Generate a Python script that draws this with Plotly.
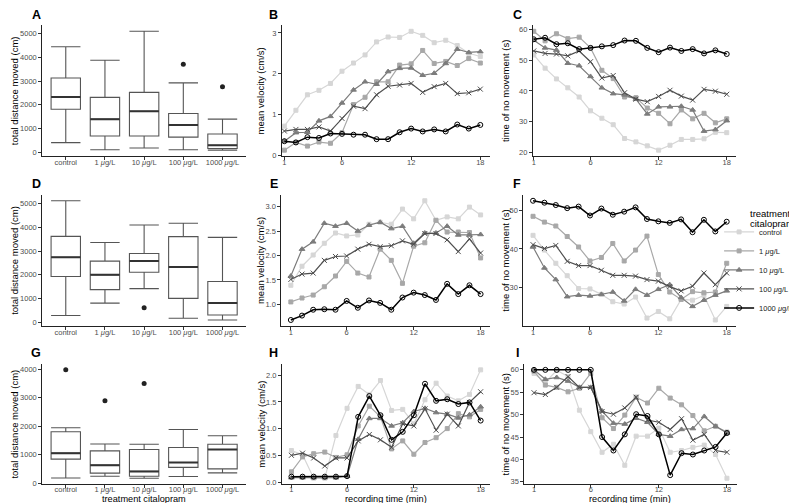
import plotly.graph_objects as go

W, H = 797, 503

# ---------------- data ----------------
treatments = ["control", "1 <i>μ</i>g/L", "10 <i>μ</i>g/L", "100 <i>μ</i>g/L", "1000 <i>μ</i>g/L"]
minutes = list(range(1, 19))
time_ticks = [1, 6, 12, 18]

# Box-plot statistics (total distance moved, cm)
A_low = [400, 100, 170, 100, 80]
A_q1 = [1810, 680, 680, 630, 150]
A_med = [2330, 1390, 1720, 1140, 290]
A_q3 = [3130, 2310, 2520, 1630, 760]
A_up = [4450, 3880, 5100, 2920, 1390]
A_out_x = [3, 4]
A_out_y = [3710, 2760]

D_low = [290, 810, 1420, 170, 100]
D_q1 = [1930, 1380, 2110, 1010, 310]
D_med = [2740, 2000, 2580, 2330, 820]
D_q3 = [3620, 2580, 2900, 3610, 1720]
D_up = [5120, 3360, 4100, 4170, 3580]
D_out_x = [2]
D_out_y = [620]

G_low = [180, 240, 170, 230, 360]
G_q1 = [840, 350, 240, 550, 500]
G_med = [1050, 630, 410, 720, 1180]
G_q3 = [1800, 1130, 1180, 1250, 1360]
G_up = [1940, 1370, 1360, 1880, 1660]
G_out_x = [0, 1, 2]
G_out_y = [3970, 2890, 3490]

# mean velocity (cm/s)
B_control = [0.71, 1.10, 1.48, 1.59, 1.76, 2.06, 2.26, 2.46, 2.78, 2.90, 2.89, 3.04, 2.94, 2.76, 2.82, 2.69, 2.50, 2.42]
B_1 = [0.12, 0.31, 0.22, 0.32, 0.29, 0.55, 1.24, 1.42, 1.80, 1.80, 2.21, 2.24, 2.57, 2.25, 2.30, 2.20, 2.37, 2.26]
B_10 = [0.34, 0.55, 0.56, 0.84, 0.95, 1.28, 1.60, 1.80, 1.74, 2.05, 2.13, 2.14, 1.96, 2.01, 2.25, 2.60, 2.52, 2.54]
B_100 = [0.59, 0.63, 0.63, 0.69, 0.59, 0.90, 1.20, 1.14, 1.48, 1.69, 1.72, 1.76, 1.54, 1.68, 1.76, 1.51, 1.53, 1.62]
B_1000 = [0.34, 0.31, 0.44, 0.42, 0.53, 0.52, 0.50, 0.50, 0.39, 0.39, 0.56, 0.65, 0.58, 0.63, 0.58, 0.75, 0.65, 0.74]

E_control = [1.39, 1.78, 2.01, 2.25, 2.46, 2.40, 2.42, 2.64, 2.68, 2.64, 2.95, 2.75, 3.12, 2.72, 2.79, 2.75, 2.99, 2.83]
E_1 = [1.05, 1.13, 1.19, 1.36, 1.58, 1.88, 1.64, 1.56, 2.13, 1.90, 1.43, 2.19, 2.26, 2.72, 2.48, 2.48, 2.47, 1.95]
E_10 = [1.58, 2.13, 2.28, 2.66, 2.60, 2.66, 2.50, 2.62, 2.68, 2.55, 2.60, 2.25, 2.46, 2.46, 2.60, 2.42, 2.42, 2.43]
E_100 = [1.51, 1.62, 1.64, 1.90, 1.98, 1.99, 2.13, 2.23, 2.18, 2.20, 2.30, 2.23, 2.45, 2.45, 2.32, 2.08, 2.34, 2.05]
E_1000 = [0.68, 0.77, 0.89, 0.90, 0.89, 1.07, 0.93, 1.08, 1.03, 0.89, 1.14, 1.24, 1.19, 1.09, 1.42, 1.21, 1.39, 1.21]

H_control = [0.59, 0.51, 0.07, 0.07, 0.87, 1.38, 1.79, 1.64, 1.90, 1.34, 1.36, 1.09, 1.54, 1.85, 1.61, 1.52, 1.64, 2.10]
H_1 = [0.19, 0.47, 0.53, 0.56, 0.46, 0.51, 1.05, 1.42, 1.22, 0.62, 0.77, 0.52, 0.74, 0.83, 1.00, 1.28, 1.22, 1.36]
H_10 = [0.08, 0.08, 0.08, 0.08, 0.08, 0.11, 0.80, 1.19, 1.19, 1.05, 1.11, 1.32, 1.38, 1.30, 1.27, 1.20, 1.26, 1.41]
H_100 = [0.50, 0.54, 0.45, 0.30, 0.45, 0.45, 0.77, 0.89, 0.79, 0.65, 1.09, 1.05, 1.37, 0.97, 1.27, 1.05, 1.49, 1.69]
H_1000 = [0.10, 0.10, 0.10, 0.10, 0.10, 0.11, 1.22, 1.61, 1.25, 0.79, 0.94, 1.25, 1.84, 1.52, 1.55, 1.46, 1.49, 1.15]

# time of no movement (s)
C_control = [51.7, 47.4, 43.9, 41.0, 38.0, 33.5, 31.1, 29.0, 24.5, 23.4, 22.1, 20.7, 22.3, 24.2, 24.2, 24.4, 26.5, 26.4]
C_1 = [59.4, 56.3, 58.6, 57.0, 57.5, 54.0, 46.7, 44.0, 38.0, 37.8, 34.4, 32.7, 29.3, 33.8, 30.9, 32.7, 29.6, 30.9]
C_10 = [56.5, 54.0, 53.3, 49.0, 48.2, 44.7, 41.0, 39.1, 38.7, 37.3, 32.5, 34.8, 34.8, 35.0, 33.8, 26.9, 27.4, 30.3]
C_100 = [53.0, 52.2, 52.0, 51.4, 53.0, 49.5, 44.2, 45.0, 39.4, 37.3, 36.5, 38.2, 40.2, 38.3, 37.0, 40.5, 39.9, 38.9]
C_1000 = [56.8, 57.3, 55.2, 55.5, 53.6, 54.0, 54.5, 54.9, 56.4, 56.3, 54.0, 52.6, 54.1, 53.0, 53.6, 52.2, 53.2, 52.0]

F_control = [43.5, 39.7, 36.3, 33.1, 29.8, 29.7, 28.3, 26.4, 25.8, 27.6, 22.2, 23.9, 22.0, 27.0, 26.8, 28.0, 21.7, 25.2]
F_1 = [48.4, 46.9, 45.9, 43.2, 40.5, 36.9, 37.8, 41.4, 36.9, 39.7, 43.3, 33.4, 28.9, 27.0, 29.0, 28.7, 28.9, 36.3]
F_10 = [40.5, 35.1, 32.1, 27.7, 28.1, 27.9, 28.3, 28.9, 26.6, 29.6, 28.1, 29.6, 30.8, 27.5, 25.2, 26.8, 28.1, 29.2]
F_100 = [41.1, 40.1, 40.9, 36.8, 35.7, 35.7, 34.5, 33.2, 33.2, 33.0, 32.1, 31.7, 30.3, 29.2, 30.4, 33.8, 30.8, 33.8]
F_1000 = [52.4, 51.9, 51.3, 50.5, 50.9, 48.6, 50.4, 48.8, 49.6, 50.7, 47.7, 47.1, 46.7, 47.6, 44.3, 47.5, 44.5, 47.0]

I_control = [59.2, 57.2, 59.9, 58.5, 51.0, 46.2, 41.6, 43.4, 38.7, 45.2, 45.2, 47.0, 41.6, 42.0, 42.7, 43.2, 41.1, 35.8]
I_1 = [59.7, 56.6, 56.1, 55.1, 55.9, 59.2, 49.3, 46.9, 49.9, 53.9, 52.6, 55.9, 53.7, 52.2, 49.8, 46.4, 47.4, 46.1]
I_10 = [60.0, 57.9, 58.3, 57.5, 56.1, 56.1, 50.8, 48.1, 47.9, 49.2, 48.3, 45.6, 45.2, 46.7, 46.9, 49.6, 47.4, 45.9]
I_100 = [54.9, 54.5, 56.1, 58.5, 56.1, 56.1, 50.7, 50.1, 51.5, 53.9, 48.8, 48.3, 46.7, 49.1, 44.3, 45.6, 42.0, 41.6]
I_1000 = [60.0, 60.0, 60.0, 60.0, 60.0, 60.0, 45.0, 42.0, 45.6, 50.1, 49.7, 45.6, 36.5, 41.4, 41.1, 42.0, 42.8, 45.9]

# ---------------- styles ----------------
FONT = "Liberation Sans, Arial, Helvetica, sans-serif"
colors = ["#d6d6d6", "#a8a8a8", "#7c7c7c", "#4f4f4f", "#000000"]
symbols = ["square", "square", "triangle-up", "x-thin", "circle-open"]
msizes = [4, 4, 5, 5, 5]
lwidths = [1.2, 1.2, 1.2, 1.2, 1.5]

def xpx(p):
    return p / W

def ypx(p):
    return 1 - p / H

rows_px = [(17.5, 149.3), (188.3, 320.5), (359.3, 479.5)]
row_standoff = [-4, -4, -5]
cols_px = {
    "A": (33.3, 237.3), "D": (33.3, 237.3), "G": (33.3, 237.3),
    "B": (273.3, 481.7), "E": (272.7, 481.7), "H": (273.3, 481.7),
    "C": (524.5, 728.3), "F": (515.0, 728.3), "I": (516.0, 728.5),
}
panel_row = {"A": 0, "B": 0, "C": 0, "D": 1, "E": 1, "F": 1, "G": 2, "H": 2, "I": 2}
panel_idx = {p: i + 1 for i, p in enumerate("ABCDEFGHI")}

fig = go.Figure()
layout = dict(
    width=W, height=H, autosize=False,
    margin=dict(l=0, r=0, t=0, b=0),
    paper_bgcolor="white", plot_bgcolor="white",
    font=dict(family=FONT, color="#000000"),
    showlegend=True,
)

def ax_names(p):
    i = panel_idx[p]
    s = "" if i == 1 else str(i)
    return "x" + s, "y" + s, "xaxis" + s, "yaxis" + s

def padded(vals, frac=0.05):
    lo, hi = min(vals), max(vals)
    d = (hi - lo) * frac
    return [lo - d, hi + d]

def common_axis():
    return dict(showline=True, linecolor="#222222", linewidth=1, ticks="outside",
                ticklen=3, tickwidth=1, tickcolor="#333333", showgrid=False,
                zeroline=False, tickfont=dict(size=7.5, color="#4d4d4d", family=FONT))

def setup_axes(p, xrange, yrange, xtickvals, xticktext, ytickvals, yformat=None):
    xa, ya, xk, yk = ax_names(p)
    r = panel_row[p]
    r0, r1 = rows_px[r]
    c0, c1 = cols_px[p]
    xd = common_axis()
    xd.update(domain=[xpx(c0), xpx(c1)], range=xrange, anchor=ya,
              tickmode="array", tickvals=xtickvals, ticktext=xticktext,
              ticklabelstandoff=row_standoff[r])
    yd = common_axis()
    yd.update(domain=[ypx(r1), ypx(r0)], range=yrange, anchor=xa,
              tickmode="array", tickvals=ytickvals)
    if yformat:
        yd["tickformat"] = yformat
    layout[xk] = xd
    layout[yk] = yd

def box_panel(p, low, q1, med, q3, up, ox, oy, yticks):
    xa, ya, _, _ = ax_names(p)
    pos = list(range(len(treatments)))
    fig.add_trace(go.Box(
        x=pos, q1=q1, median=med, q3=q3, lowerfence=low, upperfence=up,
        width=0.75, whiskerwidth=1, boxpoints=False, fillcolor="white",
        line=dict(color="#555555", width=1.1), xaxis=xa, yaxis=ya,
        showlegend=False, hoverinfo="skip"))
    mx, my = [], []
    for i, m in enumerate(med):
        mx += [i - 0.375, i + 0.375, None]
        my += [m, m, None]
    fig.add_trace(go.Scatter(x=mx, y=my, mode="lines", line=dict(color="#333333", width=2),
                             xaxis=xa, yaxis=ya, showlegend=False, hoverinfo="skip"))
    fig.add_trace(go.Scatter(x=ox, y=oy, mode="markers",
                             marker=dict(color="#222222", size=5, symbol="circle"),
                             xaxis=xa, yaxis=ya, showlegend=False, hoverinfo="skip"))
    setup_axes(p, [-0.6, len(treatments) - 0.4], padded(low + up + oy), pos, treatments, yticks)

def line_panel(p, series, yticks, yformat=None, xleft=None, legend=False):
    xa, ya, _, _ = ax_names(p)
    allv = []
    for k, vals in enumerate(series):
        allv += vals
        fig.add_trace(go.Scatter(
            x=minutes, y=vals, mode="lines+markers", name=treatments[k],
            line=dict(color=colors[k], width=lwidths[k]),
            marker=dict(symbol=symbols[k], size=msizes[k], color=colors[k],
                        line=dict(color=colors[k], width=1)),
            xaxis=xa, yaxis=ya, showlegend=legend, hoverinfo="skip"))
    xr = padded(minutes)
    if xleft is not None:
        xr[0] = xleft
    setup_axes(p, xr, padded(allv), time_ticks, [str(t) for t in time_ticks], yticks, yformat)

box_panel("A", A_low, A_q1, A_med, A_q3, A_up, A_out_x, A_out_y, [0, 1000, 2000, 3000, 4000, 5000])
box_panel("D", D_low, D_q1, D_med, D_q3, D_up, D_out_x, D_out_y, [0, 1000, 2000, 3000, 4000, 5000])
box_panel("G", G_low, G_q1, G_med, G_q3, G_up, G_out_x, G_out_y, [0, 1000, 2000, 3000, 4000])

line_panel("B", [B_control, B_1, B_10, B_100, B_1000], [0, 1, 2, 3], xleft=0.79)
line_panel("C", [C_control, C_1, C_10, C_100, C_1000], [20, 30, 40, 50, 60], xleft=0.92)
line_panel("E", [E_control, E_1, E_10, E_100, E_1000], [1.0, 1.5, 2.0, 2.5, 3.0], ".1f")
line_panel("F", [F_control, F_1, F_10, F_100, F_1000], [30, 40, 50], legend=True)
line_panel("H", [H_control, H_1, H_10, H_100, H_1000], [0.0, 0.5, 1.0, 1.5, 2.0], ".1f")
line_panel("I", [I_control, I_1, I_10, I_100, I_1000], [35, 40, 45, 50, 55, 60])

layout["legend"] = dict(
    x=xpx(711), y=ypx(264), xanchor="left", yanchor="middle",
    bgcolor="rgba(0,0,0,0)", borderwidth=0,
    font=dict(size=7.5, family=FONT, color="#222222"),
    itemwidth=30, tracegroupgap=0,
)

annotations = []
# legend title
for txt, ly in [("treatment", 206.7), ("citalopram", 217.2)]:
    annotations.append(dict(text=txt, x=xpx(740), y=ypx(ly), xref="paper", yref="paper",
                            showarrow=False, xanchor="left", yanchor="middle",
                            font=dict(size=9.5, family=FONT, color="#000000")))

letters = {"A": (27.5, 7), "B": (265, 7), "C": (509, 7),
           "D": (27.5, 177), "E": (265, 177), "F": (509, 177),
           "G": (27.5, 348), "H": (265, 348), "I": (509, 348)}
for L, (lx, ly) in letters.items():
    annotations.append(dict(text="<b>%s</b>" % L, x=xpx(lx), y=ypx(ly), xref="paper", yref="paper",
                            showarrow=False, xanchor="center", yanchor="middle",
                            font=dict(size=12.5, family=FONT, color="#000000")))

ytitles = {0: "total distance moved (cm)", 1: "mean velocity (cm/s)", 2: "time of no movement (s)"}
ytitle_x = [5.5, 252, 497]
for r, (r0, r1) in enumerate(rows_px):
    for c in range(3):
        annotations.append(dict(text=ytitles[c], x=xpx(ytitle_x[c]), y=ypx((r0 + r1) / 2),
                                xref="paper", yref="paper", showarrow=False, textangle=-90,
                                xanchor="center", yanchor="middle",
                                font=dict(size=9.5, family=FONT, color="#000000")))

for p, t in [("G", "treatment citalopram"), ("H", "recording time (min)"), ("I", "recording time (min)")]:
    c0, c1 = cols_px[p]
    annotations.append(dict(text=t, x=xpx((c0 + c1) / 2), y=ypx(495.1), xref="paper", yref="paper",
                            showarrow=False, xanchor="center", yanchor="middle",
                            font=dict(size=9.2, family=FONT, color="#000000")))

layout["annotations"] = annotations
fig.update_layout(**layout)
fig.write_html("out.html")
